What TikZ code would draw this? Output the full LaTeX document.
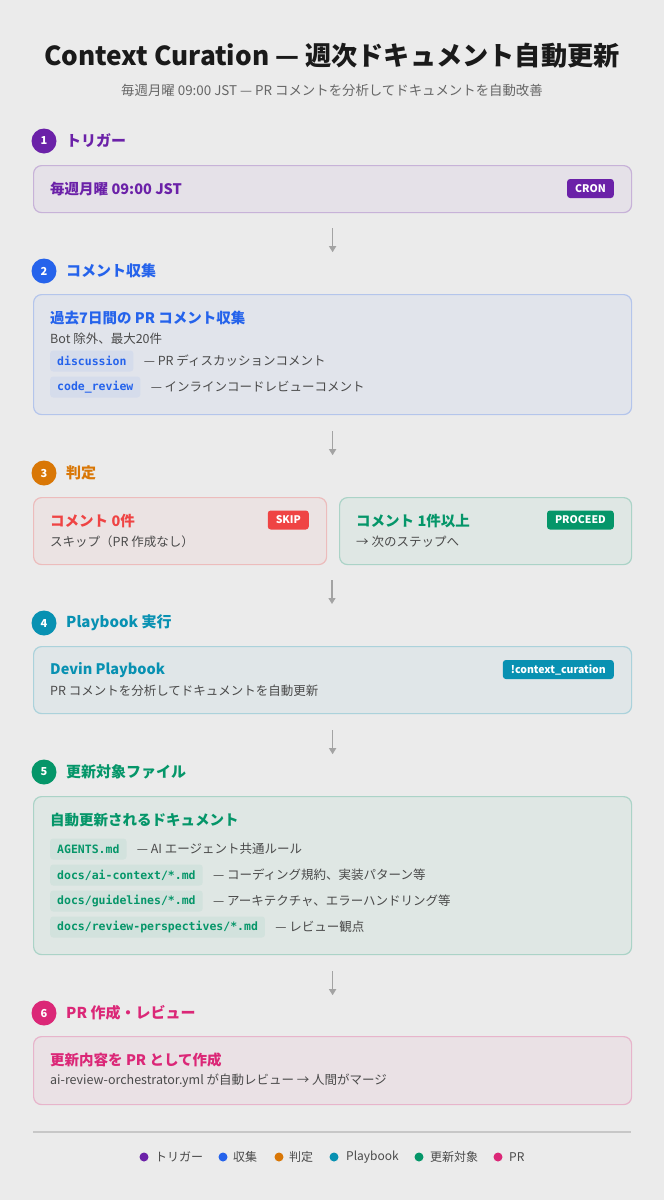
\documentclass[tikz,border=0pt]{standalone}
\usepackage{fontspec}
\setmainfont{Noto Sans CJK JP}
\newfontfamily\codefont{DejaVu Sans Mono}
\usetikzlibrary{arrows.meta}
\definecolor{bgc}{HTML}{EBEBEB}
\definecolor{purp}{HTML}{6B21A8}
\definecolor{blu}{HTML}{2563EB}
\definecolor{orng}{HTML}{D97706}
\definecolor{teal2}{HTML}{0891B2}
\definecolor{grn}{HTML}{059669}
\definecolor{pnk}{HTML}{DB2777}
\definecolor{rd}{HTML}{EF4444}
\definecolor{ink}{HTML}{1A1A1A}
\definecolor{txt}{HTML}{4A4A4A}
\definecolor{sub}{HTML}{666666}
\tikzset{
  card/.style={draw=#1!28!bgc, fill=#1!5!bgc, rounded corners=8pt, line width=1.2pt, inner sep=0pt, anchor=north west},
  stepnum/.style={circle, fill=#1, text=white, minimum size=25pt, inner sep=0pt, font=\fontsize{11}{11}\selectfont\bfseries},
  stephead/.style={text=#1, anchor=west, inner sep=0pt, font=\fontsize{15}{15}\selectfont\bfseries},
  cardtitle/.style={text=#1, anchor=west, inner sep=0pt, font=\fontsize{14.5}{14.5}\selectfont\bfseries},
  desc/.style={text=txt, anchor=west, inner sep=0pt, font=\fontsize{12.5}{12.5}\selectfont},
  badge/.style={fill=#1, text=white, rounded corners=3pt, anchor=east, inner xsep=8pt, inner ysep=0pt, minimum height=19pt, font=\fontsize{10.5}{10.5}\selectfont\bfseries},
  pill/.style={fill=#1!11!bgc, text=#1, rounded corners=3pt, anchor=west, inner xsep=7pt, inner ysep=0pt, minimum height=21pt, font=\codefont\fontsize{11.5}{11.5}\selectfont\bfseries},
  flow/.style={draw=black!36, line width=1.3pt, -{Triangle[width=7pt,length=6pt]}},
  dot/.style={circle, fill=#1, minimum size=9pt, inner sep=0pt},
  legtext/.style={text=txt, anchor=west, inner sep=0pt, font=\fontsize{12}{12}\selectfont},
}
\begin{document}
\begin{tikzpicture}[x=1pt,y=-1pt]
\fill[bgc] (0,0) rectangle (664,1200);
\useasboundingbox (0,0) rectangle (664,1200);

% title
\node[font=\fontsize{26.2}{30}\selectfont\bfseries, text=ink, inner sep=0pt] (title) at (332,56) {Context Curation — 週次ドキュメント自動更新};
\node[font=\fontsize{13.4}{13.4}\selectfont, text=sub, inner sep=0pt] (subtitle) at (332,90) {毎週月曜 09:00 JST — PR コメントを分析してドキュメントを自動改善};

% step 1
\node[stepnum=purp] (n1) at (44,141) {1};
\node[stephead=purp] (h1) at (66,141) {トリガー};
\node[card=purp, minimum width=598pt, minimum height=47pt] (b1) at (33,165) {};
\node[cardtitle=purp] (t1) at (50,189) {毎週月曜 09:00 JST};
\node[badge=purp] (bg1) at (614,188.5) {CRON};

\draw[flow] ([yshift=-15pt]b1.south) -- ([yshift=-39pt]b1.south);

% step 2
\node[stepnum=blu] (n2) at (44,271) {2};
\node[stephead=blu] (h2) at (66,271) {コメント収集};
\node[card=blu, minimum width=598pt, minimum height=120pt] (b2) at (33,294) {};
\node[cardtitle=blu] (t2) at (50,318) {過去7日間の PR コメント収集};
\node[desc] (d2) at (50,339) {Bot 除外、最大20件};
\node[pill=blu] (p21) at (50,361) {discussion};
\node[desc] (p21d) at ([xshift=10pt]p21.east) {— PR ディスカッションコメント};
\node[pill=blu] (p22) at (50,387) {code\_review};
\node[desc] (p22d) at ([xshift=10pt]p22.east) {— インラインコードレビューコメント};

\draw[flow] ([yshift=-16pt]b2.south) -- ([yshift=-40pt]b2.south);

% step 3
\node[stepnum=orng] (n3) at (44,473) {3};
\node[stephead=orng] (h3) at (66,473) {判定};
\node[card=rd, minimum width=293pt, minimum height=67pt] (b3a) at (33,497) {};
\node[cardtitle=rd] (t3a) at (50,521) {コメント 0件};
\node[badge=rd] (bg3a) at (309,520) {SKIP};
\node[desc] (d3a) at (50,542) {スキップ（PR 作成なし）};
\node[card=grn, minimum width=292pt, minimum height=67pt] (b3b) at (339,497) {};
\node[cardtitle=grn] (t3b) at (356,521) {コメント 1件以上};
\node[badge=grn] (bg3b) at (614,520) {PROCEED};
\node[desc] (d3b) at (356,542) {→ 次のステップへ};

\coordinate (c3) at (332,564);
\draw[flow] ([yshift=-16pt]c3) -- ([yshift=-40pt]c3);

% step 4
\node[stepnum=teal2] (n4) at (44,623) {4};
\node[stephead=teal2] (h4) at (66,623) {Playbook 実行};
\node[card=teal2, minimum width=598pt, minimum height=67pt] (b4) at (33,646) {};
\node[cardtitle=teal2] (t4) at (50,670) {Devin Playbook};
\node[badge=teal2] (bg4) at (614,669.5) {!context\_curation};
\node[desc] (d4) at (50,691) {PR コメントを分析してドキュメントを自動更新};

\draw[flow] ([yshift=-16pt]b4.south) -- ([yshift=-40pt]b4.south);

% step 5
\node[stepnum=grn] (n5) at (44,772) {5};
\node[stephead=grn] (h5) at (66,772) {更新対象ファイル};
\node[card=grn, minimum width=598pt, minimum height=158pt] (b5) at (33,796) {};
\node[cardtitle=grn] (t5) at (50,820) {自動更新されるドキュメント};
\node[pill=grn] (p51) at (50,849) {AGENTS.md};
\node[desc] (p51d) at ([xshift=10pt]p51.east) {— AI エージェント共通ルール};
\node[pill=grn] (p52) at (50,875) {docs/ai-context/*.md};
\node[desc] (p52d) at ([xshift=10pt]p52.east) {— コーディング規約、実装パターン等};
\node[pill=grn] (p53) at (50,901) {docs/guidelines/*.md};
\node[desc] (p53d) at ([xshift=10pt]p53.east) {— アーキテクチャ、エラーハンドリング等};
\node[pill=grn] (p54) at (50,927) {docs/review-perspectives/*.md};
\node[desc] (p54d) at ([xshift=10pt]p54.east) {— レビュー観点};

\draw[flow] ([yshift=-16pt]b5.south) -- ([yshift=-40pt]b5.south);

% step 6
\node[stepnum=pnk] (n6) at (44,1013) {6};
\node[stephead=pnk] (h6) at (66,1013) {PR 作成・レビュー};
\node[card=pnk, minimum width=598pt, minimum height=68pt] (b6) at (33,1036) {};
\node[cardtitle=pnk] (t6) at (50,1060) {更新内容を PR として作成};
\node[desc] (d6) at (50,1081) {ai-review-orchestrator.yml が自動レビュー → 人間がマージ};

% legend
\draw[black!22, line width=1.2pt] (33,1132) -- (631,1132);
\node[dot=purp] (l1) at (144,1157) {};
\node[legtext] (l1t) at (155,1157) {トリガー};
\node[dot=blu] (l2) at (223,1157) {};
\node[legtext] (l2t) at (233,1157) {収集};
\node[dot=orng] (l3) at (279,1157) {};
\node[legtext] (l3t) at (289,1157) {判定};
\node[dot=teal2] (l4) at (334,1157) {};
\node[legtext] (l4t) at (346,1157) {Playbook};
\node[dot=grn] (l5) at (419,1157) {};
\node[legtext] (l5t) at (430,1157) {更新対象};
\node[dot=pnk] (l6) at (498,1157) {};
\node[legtext] (l6t) at (509,1157) {PR};
\end{tikzpicture}
\end{document}
